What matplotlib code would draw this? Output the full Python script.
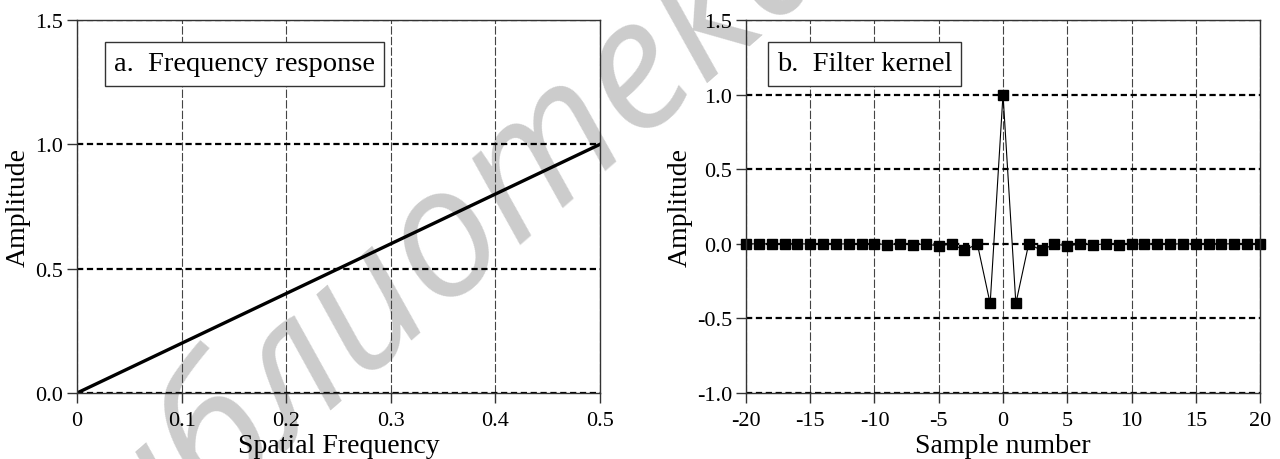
import matplotlib
matplotlib.use("Agg")
import matplotlib.pyplot as plt

# panel a: ramp frequency response
freq = [0.0, 0.5]
freq_amp = [0.0, 1.0]
freq_xticks = [0, 0.1, 0.2, 0.3, 0.4, 0.5]
freq_xlabels = ["0", "0.1", "0.2", "0.3", "0.4", "0.5"]
freq_yticks = [0.0, 0.5, 1.0, 1.5]

# panel b: filter kernel, samples -20..20
samples = list(range(-20, 21))
kernel = [0.0, -0.0011, 0.0, -0.0014, 0.0, -0.0018, 0.0, -0.0025, 0.0, -0.0035,
          0.0, -0.005, 0.0, -0.008, 0.0, -0.016, 0.0, -0.045, 0.0, -0.40,
          1.0,
          -0.40, 0.0, -0.045, 0.0, -0.016, 0.0, -0.008, 0.0, -0.005, 0.0,
          -0.0035, 0.0, -0.0025, 0.0, -0.0018, 0.0, -0.0014, 0.0, -0.0011, 0.0]
kern_xticks = [-20, -15, -10, -5, 0, 5, 10, 15, 20]
kern_yticks = [-1.0, -0.5, 0.0, 0.5, 1.0, 1.5]

plt.rcParams["font.family"] = ["Liberation Serif", "DejaVu Serif"]
plt.rcParams["axes.unicode_minus"] = False
plt.rcParams["lines.scale_dashes"] = False


def style_axes(ax):
    ax.set_facecolor("none")
    for s in ax.spines.values():
        s.set_color("#333333")
        s.set_linewidth(1.0)
    ax.tick_params(direction="out", length=7, width=1.0, color="#333333",
                   labelsize=16, pad=3, top=False, right=False)
    ax.tick_params(axis="x", pad=6)
    ax.xaxis.grid(True, linestyle=(0, (6, 1.6)), linewidth=0.8, color="#444444")
    ax.yaxis.grid(True, linestyle=(0, (4.5, 2.6)), linewidth=1.6, color="black")
    ax.set_axisbelow(True)


fig = plt.figure(figsize=(12.8, 4.6), dpi=100)

# watermark behind both panels
fig.text(0.329, 0.432, "библиотека", fontsize=130, color="#cccccc",
         family=["Open Sans", "DejaVu Sans"], style="italic",
         rotation=41, ha="center", va="center", rotation_mode="anchor", zorder=-1)

ax1 = fig.add_axes([0.0602, 0.1435, 0.4086, 0.811])
style_axes(ax1)
ax1.plot(freq, freq_amp, color="black", linewidth=2.4)
ax1.set_xlim(0, 0.5)
ax1.set_ylim(0, 1.5)
ax1.set_xticks(freq_xticks)
ax1.set_xticklabels(freq_xlabels)
ax1.set_yticks(freq_yticks)
ax1.set_yticklabels(["%.1f" % v for v in freq_yticks])
ax1.set_xlabel("Spatial Frequency", fontsize=20, labelpad=2)
ax1.set_ylabel("Amplitude", fontsize=20, labelpad=3)
ax1.text(0.07, 0.882, "a.  Frequency response", transform=ax1.transAxes,
         fontsize=20.5, ha="left", va="center",
         bbox=dict(boxstyle="square,pad=0.32", facecolor="white",
                   edgecolor="#333333", linewidth=1.0))

ax2 = fig.add_axes([0.5828, 0.1435, 0.4016, 0.811])
style_axes(ax2)
ax2.plot(samples, kernel, color="black", linewidth=0.8, marker="s",
         markersize=7, clip_on=False)
ax2.set_xlim(-20, 20)
ax2.set_ylim(-1.0, 1.5)
ax2.set_xticks(kern_xticks)
ax2.set_yticks(kern_yticks)
ax2.set_yticklabels(["%.1f" % v for v in kern_yticks])
ax2.set_xlabel("Sample number", fontsize=20, labelpad=2)
ax2.set_ylabel("Amplitude", fontsize=20, labelpad=3)
ax2.text(0.06, 0.882, "b.  Filter kernel", transform=ax2.transAxes,
         fontsize=20.5, ha="left", va="center",
         bbox=dict(boxstyle="square,pad=0.32", facecolor="white",
                   edgecolor="#333333", linewidth=1.0))

fig.savefig("out.png", dpi=100)
